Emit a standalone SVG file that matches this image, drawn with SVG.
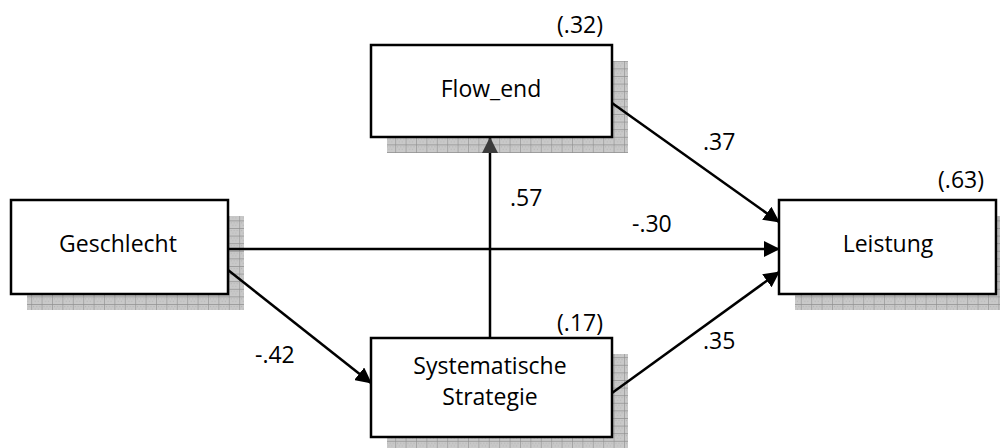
<svg xmlns="http://www.w3.org/2000/svg" width="1000" height="448" viewBox="0 0 1000 448">
  <style>
    .shadow { fill: url(#hatch); }
    .box { fill: #ffffff; stroke: #000000; stroke-width: 2.5; }
    .lbl { font-family: "Open Sans", "Liberation Sans", sans-serif; font-size: 23px; fill: #000000; }
    .mid { text-anchor: middle; }
    .end { text-anchor: end; }
    .conn { stroke: #000000; stroke-width: 2.5; fill: none; }
  </style>
  <defs>
    <!-- gray grid texture used for the drop shadows -->
    <pattern id="hatch" width="10.4" height="7.6" patternUnits="userSpaceOnUse">
      <rect width="10.4" height="7.6" fill="#c9c9c9"/>
      <path d="M0 0H10.4M0 0V7.6" stroke="#8f8f8f" stroke-width="1.2"/>
      <path d="M2 2h1v1h-1zM5 2h1v1h-1zM8 2h1v1h-1zM3.5 4.5h1v1h-1zM6.5 4.5h1v1h-1z" fill="#b2b2b2"/>
    </pattern>
    <marker id="arrow" markerUnits="userSpaceOnUse" markerWidth="16" markerHeight="16" viewBox="0 0 16 16" refX="15" refY="8" orient="auto">
      <path d="M0 0L16 8L0 16z" fill="#000000"/>
    </marker>
    <marker id="arrow-dim" markerUnits="userSpaceOnUse" markerWidth="16" markerHeight="16" viewBox="0 0 16 16" refX="15" refY="8" orient="auto">
      <path d="M0 0L16 8L0 16z" fill="#3c3c3c"/>
    </marker>
  </defs>

  <rect width="1000" height="448" fill="#ffffff"/>

  <!-- drop shadows -->
  <g id="shadows">
    <rect class="shadow" x="387" y="61" width="241" height="92"/>
    <rect class="shadow" x="27" y="216" width="217" height="94"/>
    <rect class="shadow" x="387" y="354" width="241" height="99"/>
    <rect class="shadow" x="795" y="216" width="217" height="94"/>
  </g>

  <!-- path coefficients -->
  <g id="connectors">
    <line class="conn" x1="228" y1="249" x2="779" y2="249" marker-end="url(#arrow)"/>
    <line class="conn" x1="228" y1="270" x2="371" y2="383" marker-end="url(#arrow)"/>
    <line class="conn" x1="612" y1="103" x2="779" y2="222" marker-end="url(#arrow)"/>
    <line class="conn" x1="612" y1="393" x2="779" y2="272" marker-end="url(#arrow)"/>
    <line class="conn" x1="490" y1="338" x2="490" y2="138" marker-end="url(#arrow-dim)"/>
    <text class="lbl" x="703" y="150">.37</text>
    <text class="lbl" x="510" y="206">.57</text>
    <text class="lbl" x="632" y="232">-.30</text>
    <text class="lbl" x="255" y="363">-.42</text>
    <text class="lbl" x="703" y="349">.35</text>
  </g>

  <g id="flow_end">
    <rect class="box" x="371" y="45" width="241" height="92"/>
    <text class="lbl mid" x="491" y="97">Flow_end</text>
    <text class="lbl end" x="603" y="33">(.32)</text>
  </g>

  <g id="geschlecht">
    <rect class="box" x="11" y="200" width="217" height="94"/>
    <text class="lbl mid" x="118" y="252">Geschlecht</text>
  </g>

  <g id="systematische_strategie">
    <rect class="box" x="371" y="338" width="241" height="99"/>
    <text class="lbl mid" x="490" y="374">Systematische</text>
    <text class="lbl mid" x="490" y="405">Strategie</text>
    <text class="lbl end" x="603" y="331">(.17)</text>
  </g>

  <g id="leistung">
    <rect class="box" x="779" y="200" width="217" height="94"/>
    <text class="lbl mid" x="888" y="252">Leistung</text>
    <text class="lbl end" x="984" y="188">(.63)</text>
  </g>
</svg>
